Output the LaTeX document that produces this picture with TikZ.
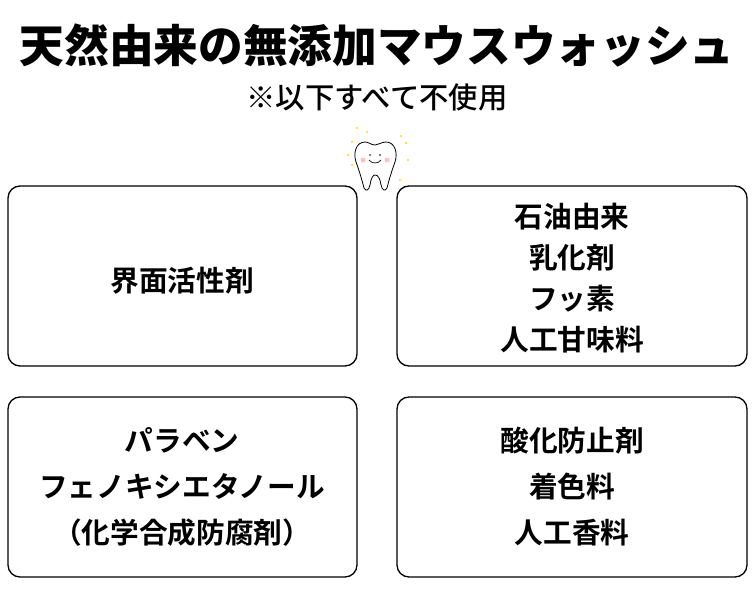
\documentclass[tikz,border=0pt]{standalone}
\usepackage{fontspec}
\newfontfamily\cjkb{Noto Sans CJK JP Bold}
\newfontfamily\cjkbl{Noto Sans CJK JP Black}
\newfontfamily\cjk{Noto Sans CJK JP Medium}
\begin{document}
\begin{tikzpicture}[x=0.75pt,y=-0.75pt,
 card/.style={draw=black,line width=1pt,rounded corners=9pt},
 txt/.style={font=\cjkb\fontsize{21.5}{34.5}\selectfont,align=center},
 txtb/.style={font=\cjkb\fontsize{21.5}{30.8}\selectfont,align=center},
 spark/.style={fill=yellow!80!orange}]
\useasboundingbox (0,0) rectangle (755,592);
\node (title) at (377,45) {\cjkbl\fontsize{33.5}{36}\selectfont 天然由来の無添加マウスウォッシュ};
\node (sub) at (377,97) {\cjk\fontsize{22}{24}\selectfont ※以下すべて不使用};
% tooth
\draw[line width=0.6pt,fill=white] (365,142) .. controls (356,142) and (353,153) .. (356,162)
 .. controls (359,170) and (362,180) .. (364,188) .. controls (366,192) and (369,190) .. (370,185)
 .. controls (371,178) and (373,175) .. (375,175) .. controls (378,175) and (380,178) .. (381,185)
 .. controls (382,190) and (385,192) .. (387,188) .. controls (389,180) and (392,170) .. (395,162)
 .. controls (398,153) and (395,142) .. (386,142) .. controls (381,142) and (379,145) .. (375,145)
 .. controls (371,145) and (369,142) .. (365,142) -- cycle;
\fill (370,155) circle (0.9); \fill (380,155) circle (0.9);
\draw[line width=0.5pt] (369,160) .. controls (372,164) and (378,164) .. (381,160);
\fill[red!25] (363,160) circle (2.5); \fill[red!25] (387,160) circle (2.5);
\foreach \p in {(357,128),(367,132),(348,155),(352,165),(401,136),(406,143),(408,160),(400,180),(352,142)}
 \fill[spark] \p circle (1.2);
% boxes
\draw[card] (8,186) rectangle (357,366);
\draw[card] (397,186) rectangle (747,366);
\draw[card] (8,397) rectangle (357,577);
\draw[card] (397,397) rectangle (747,577);
\node[txt] (a) at (182,281) {界面活性剤};
\node[txtb] (b) at (572,278) {石油由来\\乳化剤\\フッ素\\人工甘味料};
\node[txt] (c) at (182,487) {パラベン\\フェノキシエタノール\\（化学合成防腐剤）};
\node[txt] (d) at (572,487) {酸化防止剤\\着色料\\人工香料};
\end{tikzpicture}
\end{document}
